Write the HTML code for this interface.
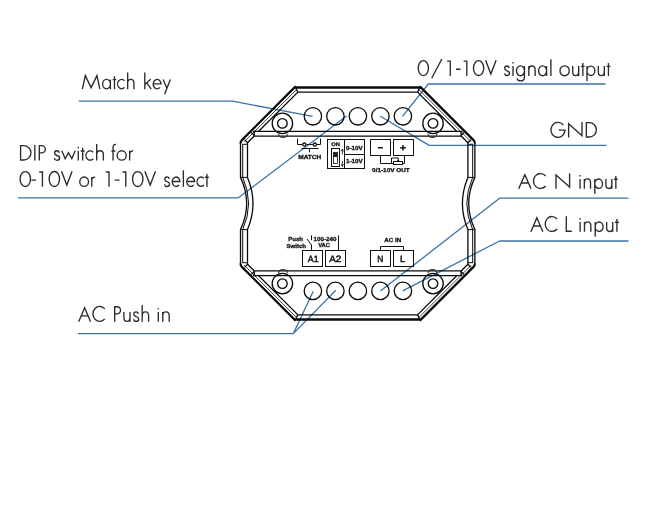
<!DOCTYPE html>
<html><head><meta charset="utf-8">
<style>
html,body{margin:0;padding:0;background:#fff;}
svg{display:block;will-change:transform;}
text{font-family:"Liberation Sans",sans-serif;text-rendering:geometricPrecision;}
.lbl{font-size:21.5px;fill:#000;fill-opacity:0;stroke:none;}
.b{font-weight:bold;fill:#111;stroke:#111;stroke-width:0.3px;}
.k{fill:none;stroke:#0a0a0a;stroke-width:1.3;}
.kt{fill:none;stroke:#0a0a0a;stroke-width:1;}
.s{fill:none;stroke:#111;stroke-width:1;}
.st{fill:none;stroke:#111;stroke-width:0.8;}
.bl{fill:none;stroke:#3b73aa;stroke-width:1.3;stroke-linejoin:round;}
</style></head><body>
<svg width="660" height="532" viewBox="0 0 660 532">
<rect width="660" height="532" fill="#fff"/>

<!-- blue callouts -->
<g id="callouts">
<path d="M78.8 101.2 H232.5 L312.5 116.3" class="bl"/>
<path d="M18 197.8 H238.4 L346.5 116" class="bl"/>
<path d="M402.5 116.3 L428.3 84 H605.5" class="bl"/>
<path d="M380.4 116.3 L429.2 145.4 H606.5" class="bl"/>
<path d="M380.4 291 L499.6 198.2 H628.5" class="bl"/>
<path d="M402.7 290.9 L499.6 241 H628.5" class="bl"/>
<path d="M77.8 333.6 H293.3 L313.3 291.2 M293.3 333.6 L335.8 290.3" class="bl"/>
</g>

<!-- device outline -->
<defs>
<g id="q">
<path d="M295.8 87.6 L297.6 92.1" stroke="#111" stroke-width="1.4" fill="none"/>
<path d="M295.6 86.4 L241.9 140.1 Q240.5 141.6 240.5 143.6" stroke="#0a0a0a" stroke-width="2.2" fill="none"/>
<path d="M297 89.0 L244.2 141.8" stroke="#111" stroke-width="0.8" fill="none"/>
<path d="M297.9 92.1 L258.7 131.3" class="k"/>
<path d="M247.5 142.8 L254.3 136 M244.6 139.6 L247.5 142.8 M251.2 132.4 L254.3 135.6" class="k"/>
<path d="M254.3 131.3 V136.1" stroke="#111" stroke-width="1.5" fill="none"/>
<path d="M240.5 143 V177.4 Q246.7 190.5 246.7 203.7" class="k"/>
<path d="M242.7 144.3 V177.4 Q248.6 190.5 248.6 203.7" class="kt"/>
<path d="M247.5 142.8 V177.4 Q253 190.5 253 203.7" class="k"/>
<path d="M242.2 144.3 H247.5 M240.5 177.4 H247.5" class="kt"/>
<circle cx="282.4" cy="123.4" r="10.2" class="k"/><circle cx="282.4" cy="123.4" r="4.8" class="k"/>
<path d="M278.6 134 Q279 137.4 283 137.4 Q287 137.4 287.4 134" fill="none" stroke="#333" stroke-width="1.1"/>
</g>
<g id="hh">
<path d="M295 87.4 H420.4" stroke="#0a0a0a" stroke-width="2.5" fill="none"/>
<path d="M297 92.1 H418.4 M253 131.3 H462.4 M254.3 136.1 H461.1" class="k"/>
</g>
</defs>
<g id="dev">
<use href="#hh"/>
<use href="#hh" transform="translate(0,407) scale(1,-1)"/>
<use href="#q"/>
<use href="#q" transform="translate(715.4,0) scale(-1,1)"/>
<use href="#q" transform="translate(0,407) scale(1,-1)"/>
<use href="#q" transform="translate(715.4,407) scale(-1,-1)"/>
<g class="k">
<circle cx="312.9" cy="116.3" r="8.7"/><circle cx="335.4" cy="116.3" r="8.7"/><circle cx="357.9" cy="116.3" r="8.7"/><circle cx="380.4" cy="116.3" r="8.7"/><circle cx="402.9" cy="116.3" r="8.7"/>
<circle cx="312.9" cy="290.9" r="8.7"/><circle cx="335.4" cy="290.9" r="8.7"/><circle cx="357.9" cy="290.9" r="8.7"/><circle cx="380.4" cy="290.9" r="8.7"/><circle cx="402.9" cy="290.9" r="8.7"/>
</g>
</g>

<!-- inner symbols -->
<g id="sym" opacity="0.999">
<!-- MATCH -->
<path d="M297.5 138.6 V144.5 H302.3 M306.3 144.5 H312.8 M316.8 144.5 H320.5 V138.6 M301.5 148.5 H318.5 M309.5 148.5 V152.3" class="s"/>
<circle cx="304.3" cy="144.6" r="1.6" style="fill:none;stroke:#111;stroke-width:1.3"/><circle cx="314.8" cy="144.6" r="1.6" style="fill:none;stroke:#111;stroke-width:1.3"/>
<text x="298.2" y="158.6" class="b" font-size="5.8" textLength="23.1" lengthAdjust="spacingAndGlyphs">MATCH</text>
<!-- DIP -->
<rect x="327.5" y="139.5" width="37" height="29" class="s"/>
<path d="M344.5 139.5 V168.5 M344.5 154.5 H364.5" class="s"/>
<text x="331.2" y="145.8" class="b" font-size="5.2" textLength="8.6" lengthAdjust="spacingAndGlyphs">ON</text>
<rect x="331.5" y="148.5" width="8" height="18" class="s"/>
<rect x="333.5" y="152.5" width="4" height="11" class="st"/>
<rect x="333.5" y="152.5" width="4" height="4.5" fill="#222"/>
<path d="M342.4 154.4 V149.5 M341.4 151.3 L342.4 149 L343.4 151.3 M342.4 161 V166 M341.4 164.3 L342.4 166.6 L343.4 164.3" class="st"/>
<text x="346" y="150.2" class="b" font-size="5.8" textLength="16.7" lengthAdjust="spacingAndGlyphs">0-10V</text>
<text x="346" y="163" class="b" font-size="5.8" textLength="16.7" lengthAdjust="spacingAndGlyphs">1-10V</text>
<!-- - + -->
<rect x="370.5" y="139.5" width="20" height="16" class="s"/>
<rect x="393.5" y="139.5" width="20" height="16" class="s"/>
<path d="M377.9 147.7 H382.9 M400.2 147.7 H405.8 M403 144.9 V150.5" stroke="#111" stroke-width="1.5" fill="none"/>
<path d="M380.5 155.5 V163.5 H404.5 V155.5 M391.5 163.5 V158 H398.2 V161" class="s"/>
<rect x="393.5" y="161.5" width="9" height="3" style="fill:#fff;stroke:#111;stroke-width:1"/>
<path d="M397 160 L398.2 161.6 L399.4 160 Z" fill="#111"/>
<text x="372.1" y="171.6" class="b" font-size="5.7" textLength="37.6" lengthAdjust="spacingAndGlyphs">0/1-10V OUT</text>
<!-- bottom -->
<rect x="302.5" y="250.5" width="20" height="16" class="s"/>
<rect x="325.5" y="250.5" width="20" height="16" class="s"/>
<rect x="370.5" y="250.5" width="20" height="16" class="s"/>
<rect x="393.5" y="250.5" width="20" height="16" class="s"/>
<text x="307.8" y="261.6" font-size="9.2" fill="#111" stroke="#111" stroke-width="0.45" textLength="10.7" lengthAdjust="spacingAndGlyphs">A1</text>
<text x="329.2" y="261.6" font-size="9.2" fill="#111" stroke="#111" stroke-width="0.45" textLength="12.1" lengthAdjust="spacingAndGlyphs">A2</text>
<text x="377.3" y="261.6" font-size="9.2" fill="#111" stroke="#111" stroke-width="0.45" textLength="6" lengthAdjust="spacingAndGlyphs">N</text>
<text x="400" y="261.6" font-size="9.2" fill="#111" stroke="#111" stroke-width="0.45" textLength="5.2" lengthAdjust="spacingAndGlyphs">L</text>
<text x="288.2" y="240.8" class="b" font-size="5.8" textLength="14.8" lengthAdjust="spacingAndGlyphs">Push</text>
<text x="286.4" y="247.8" class="b" font-size="5.8" textLength="19.7" lengthAdjust="spacingAndGlyphs">Switch</text>
<path d="M311.5 235.3 V240.2 M307 239 L311.5 245 V250.5 M338.5 235.3 V250.5" class="s"/>
<text x="313.6" y="240.8" class="b" font-size="5.8" textLength="22.8" lengthAdjust="spacingAndGlyphs">100-240</text>
<text x="318.2" y="247.3" class="b" font-size="5.8" textLength="11.8" lengthAdjust="spacingAndGlyphs">VAC</text>
<path d="M380.5 250.5 V246.5 H403.5 V250.5" class="s"/>
<text x="384.2" y="241.7" class="b" font-size="5.8" textLength="17" lengthAdjust="spacingAndGlyphs">AC IN</text>
</g>

<!-- labels -->
<g id="labels" fill="none" stroke="#2b2b2b" stroke-width="1.35" stroke-linejoin="miter" stroke-miterlimit="8">
<path d="M 82.39 89.20 L 85.31 75.60 L 91.12 87.60 L 96.93 75.60 L 99.85 89.20 M 102.59 84.10 a 3.90 4.7 0 1 0 7.81 0 a 3.90 4.7 0 1 0 -7.81 0 M 110.39 79.40 V 89.20 M 114.49 76.30 V 89.20 M 112.64 79.60 H 116.35 M 124.45 80.80 A 4.00 4.7 0 1 0 124.45 87.40 M 127.67 72.60 V 89.20 M 127.67 83.40 Q 127.67 79.30 130.79 79.30 Q 133.91 79.30 133.91 83.20 V 89.20"/>
<path d="M 144.79 72.60 V 89.20 M 150.65 79.30 L 144.79 84.60 M 146.84 82.80 L 151.24 89.20 M 153.30 83.90 H 161.02 A 3.91 4.7 0 1 0 159.95 87.40 M 170.31 79.40 L 164.64 94.20 M 163.08 79.40 L 166.89 88.20"/>
<path d="M 20.61 160.00 V 145.60 H 23.66 A 7.31 7.2 0 0 1 23.66 160.00 Z M 34.83 145.00 V 160.60 M 39.30 160.60 V 145.60 H 41.63 A 3.66 3.6 0 0 1 41.63 152.80 H 39.30"/>
<path d="M 59.33 152.70 Q 58.70 150.70 56.93 150.70 Q 54.54 150.70 54.54 153.00 Q 54.54 154.80 56.93 155.50 Q 59.64 156.20 59.64 157.80 Q 59.64 160.30 56.93 160.30 Q 54.85 160.30 54.22 158.10 M 61.83 150.80 L 65.16 158.70 L 68.49 152.60 L 71.82 158.70 L 75.16 150.80 M 78.28 150.80 V 160.60 M 78.28 146.80 V 148.20 M 82.65 147.70 V 160.60 M 80.67 151.00 H 84.63 M 93.27 152.20 A 4.27 4.7 0 1 0 93.27 158.80 M 96.71 144.00 V 160.60 M 96.71 154.80 Q 96.71 150.70 100.04 150.70 Q 103.38 150.70 103.38 154.60 V 160.60"/>
<path d="M 113.05 160.60 V 147.60 Q 113.05 144.20 116.05 144.40 M 111.40 151.00 H 115.38 M 117.12 155.50 a 4.56 4.7 0 1 0 9.12 0 a 4.56 4.7 0 1 0 -9.12 0 M 129.63 150.80 V 160.60 M 129.63 154.60 Q 129.82 150.80 133.22 150.90"/>
<path d="M 20.10 179.00 a 5.21 7.45 0 1 0 10.42 0 a 5.21 7.45 0 1 0 -10.42 0 M 31.52 180.10 H 36.13 M 39.24 172.00 H 42.44 V 186.80 M 49.16 179.00 a 5.21 7.45 0 1 0 10.42 0 a 5.21 7.45 0 1 0 -10.42 0 M 61.48 171.20 L 66.79 185.00 L 72.10 171.20"/>
<path d="M 79.76 181.70 a 4.38 4.7 0 1 0 8.77 0 a 4.38 4.7 0 1 0 -8.77 0 M 91.79 177.00 V 186.80 M 91.79 180.80 Q 91.98 177.00 95.24 177.10"/>
<path d="M 105.80 172.00 H 109.01 V 186.80 M 114.84 180.10 H 119.45 M 122.57 172.00 H 125.78 V 186.80 M 132.51 179.00 a 5.22 7.45 0 1 0 10.44 0 a 5.22 7.45 0 1 0 -10.44 0 M 144.86 171.20 L 150.18 185.00 L 155.50 171.20"/>
<path d="M 169.28 178.90 Q 168.69 176.90 167.03 176.90 Q 164.78 176.90 164.78 179.20 Q 164.78 181.00 167.03 181.70 Q 169.57 182.40 169.57 184.00 Q 169.57 186.50 167.03 186.50 Q 165.07 186.50 164.49 184.30 M 172.21 181.50 H 179.94 A 3.91 4.7 0 1 0 178.87 185.00 M 183.37 170.20 V 186.80 M 186.89 181.50 H 194.62 A 3.91 4.7 0 1 0 193.54 185.00 M 203.91 178.40 A 4.01 4.7 0 1 0 203.91 185.00 M 206.94 173.90 V 186.80 M 205.08 177.20 H 208.80"/>
<path d="M 78.69 321.70 L 84.64 307.70 L 90.59 321.70 M 81.07 315.90 H 88.21 M 104.80 308.91 A 6.79 7.45 0 1 0 104.80 318.89"/>
<path d="M 114.70 321.70 V 306.70 H 117.00 A 3.60 3.6 0 0 1 117.00 313.90 H 114.70 M 123.90 311.90 V 317.50 Q 123.90 321.40 126.95 321.40 Q 130.00 321.40 130.00 317.30 M 130.00 311.90 V 321.70 M 138.40 313.80 Q 137.80 311.80 136.10 311.80 Q 133.80 311.80 133.80 314.10 Q 133.80 315.90 136.10 316.60 Q 138.70 317.30 138.70 318.90 Q 138.70 321.40 136.10 321.40 Q 134.10 321.40 133.50 319.20 M 142.20 305.10 V 321.70 M 142.20 315.90 Q 142.20 311.80 145.40 311.80 Q 148.60 311.80 148.60 315.70 V 321.70"/>
<path d="M 158.30 311.90 V 321.70 M 158.30 307.90 V 309.30 M 162.74 311.90 V 321.70 M 162.74 315.90 Q 162.74 311.80 165.97 311.80 Q 169.20 311.80 169.20 315.70 V 321.70"/>
<path d="M 418.19 68.10 a 5.15 7.45 0 1 0 10.30 0 a 5.15 7.45 0 1 0 -10.30 0 M 431.66 78.30 L 441.85 59.00 M 447.10 61.10 H 450.27 V 75.90 M 456.01 69.20 H 460.57 M 463.63 61.10 H 466.80 V 75.90 M 473.44 68.10 a 5.15 7.45 0 1 0 10.30 0 a 5.15 7.45 0 1 0 -10.30 0 M 485.61 60.30 L 490.86 74.10 L 496.11 60.30"/>
<path d="M 509.25 68.00 Q 508.66 66.00 506.97 66.00 Q 504.69 66.00 504.69 68.30 Q 504.69 70.10 506.97 70.80 Q 509.55 71.50 509.55 73.10 Q 509.55 75.60 506.97 75.60 Q 504.99 75.60 504.40 73.40 M 513.02 66.10 V 75.90 M 513.02 62.10 V 63.50 M 516.49 70.80 a 3.97 4.7 0 1 0 7.93 0 a 3.97 4.7 0 1 0 -7.93 0 M 524.43 66.10 V 76.90 Q 524.43 80.90 520.46 80.90 Q 517.88 80.90 516.99 78.50 M 528.79 66.10 V 75.90 M 528.79 70.10 Q 528.79 66.00 531.96 66.00 Q 535.14 66.00 535.14 69.90 V 75.90 M 538.61 70.80 a 3.97 4.7 0 1 0 7.93 0 a 3.97 4.7 0 1 0 -7.93 0 M 546.54 66.10 V 75.90 M 550.90 59.30 V 75.90"/>
<path d="M 559.99 70.80 a 4.63 4.7 0 1 0 9.25 0 a 4.63 4.7 0 1 0 -9.25 0 M 572.69 66.10 V 71.70 Q 572.69 75.60 575.69 75.60 Q 578.70 75.60 578.70 71.50 M 578.70 66.10 V 75.90 M 582.83 63.00 V 75.90 M 580.96 66.30 H 584.70 M 586.97 70.80 a 3.94 4.7 0 1 0 7.88 0 a 3.94 4.7 0 1 0 -7.88 0 M 586.97 66.10 V 80.90 M 598.29 66.10 V 71.70 Q 598.29 75.60 601.29 75.60 Q 604.29 75.60 604.29 71.50 M 604.29 66.10 V 75.90 M 608.43 63.00 V 75.90 M 606.56 66.30 H 610.30"/>
<path d="M 563.27 125.01 A 7.04 7.45 0 1 0 564.98 130.10 H 558.77 M 568.63 137.60 V 123.80 L 582.02 135.80 V 122.00 M 586.36 137.00 V 122.60 H 589.32 A 7.09 7.2 0 0 1 589.32 137.00 Z"/>
<path d="M 518.71 188.80 L 524.86 174.80 L 531.00 188.80 M 521.17 183.00 H 528.54 M 545.69 176.01 A 7.01 7.45 0 1 0 545.69 185.99"/>
<path d="M 556.00 188.80 V 175.00 L 569.60 187.00 V 173.20"/>
<path d="M 580.08 179.00 V 188.80 M 580.08 175.00 V 176.40 M 584.34 179.00 V 188.80 M 584.34 183.00 Q 584.34 178.90 587.43 178.90 Q 590.52 178.90 590.52 182.80 V 188.80 M 594.78 183.70 a 3.87 4.7 0 1 0 7.74 0 a 3.87 4.7 0 1 0 -7.74 0 M 594.78 179.00 V 193.80 M 605.90 179.00 V 184.60 Q 605.90 188.50 608.85 188.50 Q 611.80 188.50 611.80 184.40 M 611.80 179.00 V 188.80 M 615.86 175.90 V 188.80 M 614.03 179.20 H 617.70"/>
<path d="M 530.90 231.80 L 536.87 217.80 L 542.84 231.80 M 533.28 226.00 H 540.45 M 557.10 219.01 A 6.82 7.45 0 1 0 557.10 228.99"/>
<path d="M 566.29 216.20 V 231.20 H 571.80"/>
<path d="M 580.10 222.00 V 231.80 M 580.10 218.00 V 219.40 M 584.47 222.00 V 231.80 M 584.47 226.00 Q 584.47 221.90 587.66 221.90 Q 590.84 221.90 590.84 225.80 V 231.80 M 595.22 226.70 a 3.98 4.7 0 1 0 7.96 0 a 3.98 4.7 0 1 0 -7.96 0 M 595.22 222.00 V 236.80 M 606.66 222.00 V 227.60 Q 606.66 231.50 609.70 231.50 Q 612.73 231.50 612.73 227.40 M 612.73 222.00 V 231.80 M 616.91 218.90 V 231.80 M 615.02 222.20 H 618.80"/>
</g>
<g id="labeltext">
<text x="81.8" y="89.2" class="lbl" textLength="89.1" lengthAdjust="spacingAndGlyphs">Match key</text>
<text x="20" y="160.6" class="lbl" textLength="113.8" lengthAdjust="spacingAndGlyphs">DIP switch for</text>
<text x="19.5" y="186.8" class="lbl" textLength="189.3" lengthAdjust="spacingAndGlyphs">0-10V or 1-10V select</text>
<text x="78.1" y="321.7" class="lbl" textLength="91.7" lengthAdjust="spacingAndGlyphs">AC Push in</text>
<text x="417.6" y="75.9" class="lbl" textLength="192.7" lengthAdjust="spacingAndGlyphs">0/1-10V signal output</text>
<text x="550.3" y="137.6" class="lbl" textLength="46.7" lengthAdjust="spacingAndGlyphs">GND</text>
<text x="518.1" y="188.8" class="lbl" textLength="99.6" lengthAdjust="spacingAndGlyphs">AC N input</text>
<text x="530.3" y="231.8" class="lbl" textLength="88.5" lengthAdjust="spacingAndGlyphs">AC L input</text>
</g>
</svg>
</body></html>
